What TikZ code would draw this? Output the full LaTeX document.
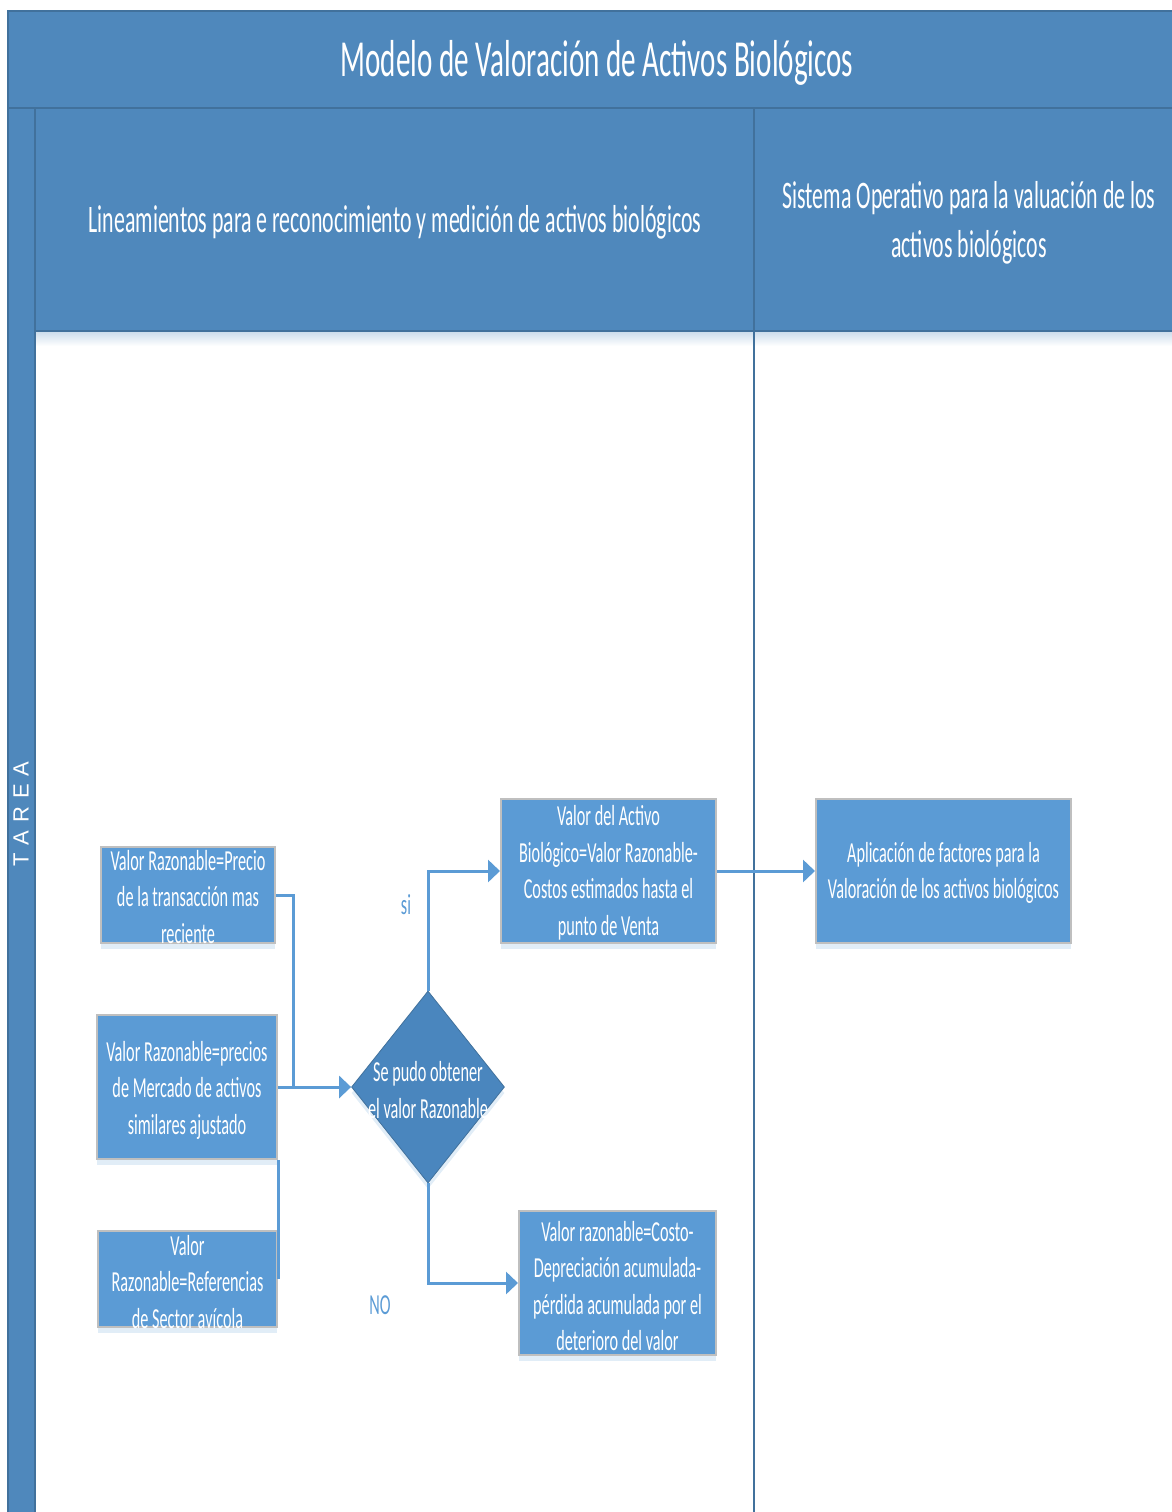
\documentclass[tikz,border=0pt]{standalone}
\usepackage{fontspec}
\setmainfont{Carlito}[FakeStretch=0.56]
\newfontfamily\tareafont{Liberation Sans}
\usetikzlibrary{shapes.geometric,arrows.meta,shadows,calc}
\definecolor{hdr}{RGB}{79,136,188}
\definecolor{hdrline}{RGB}{65,113,156}
\definecolor{boxfill}{RGB}{91,155,213}
\definecolor{boxline}{RGB}{191,191,191}
\definecolor{dia}{RGB}{74,134,190}
\definecolor{conn}{RGB}{91,155,213}
\begin{document}
\begin{tikzpicture}[x=1pt,y=-1pt,
  frameline/.style={hdrline, line width=1.5pt},
  box/.style={rectangle, fill=boxfill, draw=boxline, line width=2pt, inner sep=0pt,
    drop shadow={shadow xshift=0pt, shadow yshift=-6pt, opacity=0.18, fill=boxfill}},
  dec/.style={diamond, fill=dia, draw=hdrline, line width=0.8pt, inner sep=0pt,
    drop shadow={shadow xshift=0pt, shadow yshift=-6pt, opacity=0.18, fill=boxfill}},
  boxtext/.style={white, align=center, font=\fontsize{29}{36.5}\selectfont, inner sep=0pt},
  hdrtext/.style={white, font=\fontsize{39}{49}\selectfont, inner sep=0pt, anchor=base},
  lbl/.style={conn, font=\fontsize{29}{34}\selectfont, inner sep=0pt},
  link/.style={conn, line width=3pt},
  arr/.style={link, -{Triangle[length=12pt,width=22pt]}}
]
\useasboundingbox (0,0) rectangle (1172,1512);
% pool and lanes
\fill[hdr] (8,11) rectangle (1172,108);
\fill[hdr] (8,108) rectangle (35,1512);
\fill[hdr] (35,108) rectangle (1172,331);
\shade[top color=hdr!30, bottom color=white] (35,331) rectangle (1172,346);
\draw[frameline] (8,1512) -- (8,11) -- (1172,11);
\draw[frameline] (8,108) -- (1172,108);
\draw[frameline] (35,108) -- (35,1512);
\draw[frameline] (35,331) -- (1172,331);
\draw[frameline] (754,108) -- (754,1512);

\node[white, font=\fontsize{52}{60}\selectfont, inner sep=0pt, anchor=base] (title) at (597,77)
  {Modelo de Valoración de Activos Biológicos};
\node[hdrtext] (lane1) at (395,232) {Lineamientos para e reconocimiento y medición de activos biológicos};
\node[hdrtext] (lane2a) at (969,208) {Sistema Operativo para la valuación de los};
\node[hdrtext] (lane2b) at (969,257) {activos biológicos};
\node[white, rotate=90, font=\tareafont\fontsize{22}{22}\selectfont, inner sep=0pt] (tarea) at (21,814)
  {T\kern8pt A\kern8pt R\kern8pt E\kern8pt A};

% shapes
\node[box, minimum width=174pt, minimum height=96pt] (b1) at (188,895) {};
\node[box, minimum width=180pt, minimum height=144pt] (b2) at (187,1087) {};
\node[box, minimum width=179pt, minimum height=96pt] (b3) at (187.5,1279) {};
\node[dec, minimum width=153pt, minimum height=192pt] (d) at (428,1087) {};
\node[box, minimum width=215pt, minimum height=144pt] (b4) at (608.5,871) {};
\node[box, minimum width=197pt, minimum height=144pt] (b5) at (617.5,1283) {};
\node[box, minimum width=255pt, minimum height=144pt] (b6) at (943.5,871) {};

% texts
\node[boxtext] (t1) at (188,897) {Valor Razonable=Precio\\de la transacción mas\\reciente};
\node[boxtext] (t2) at (187,1090) {Valor Razonable=precios\\de Mercado de activos\\similares ajustado};
\node[boxtext] (t3) at (187.5,1282) {Valor\\Razonable=Referencias\\de Sector avícola};
\node[boxtext] (td) at (428,1090) {Se pudo obtener\\el valor Razonable};
\node[boxtext] (t4) at (608.5,873) {Valor del Activo\\Biológico=Valor Razonable-\\Costos estimados hasta el\\punto de Venta};
\node[boxtext] (t5) at (617.5,1286) {Valor razonable=Costo-\\Depreciación acumulada-\\pérdida acumulada por el\\deterioro del valor};
\node[boxtext] (t6) at (943.5,873) {Aplicación de factores para la\\Valoración de los activos biológicos};

% connectors
\coordinate (jn) at (293,1087);
\draw[link] (b1.east) -| (jn);
\draw[link] (b3.east) -- (b2.south east);
\draw[arr] (b2.east) -- (d.west);
\draw[arr] (d.north) |- (b4.west);
\draw[arr] (d.south) |- (b5.west);
\draw[arr] (b4.east) -- (b6.west);

\node[lbl] (si) at (406,905) {si};
\node[lbl] (no) at (380,1305) {NO};
\end{tikzpicture}
\end{document}
